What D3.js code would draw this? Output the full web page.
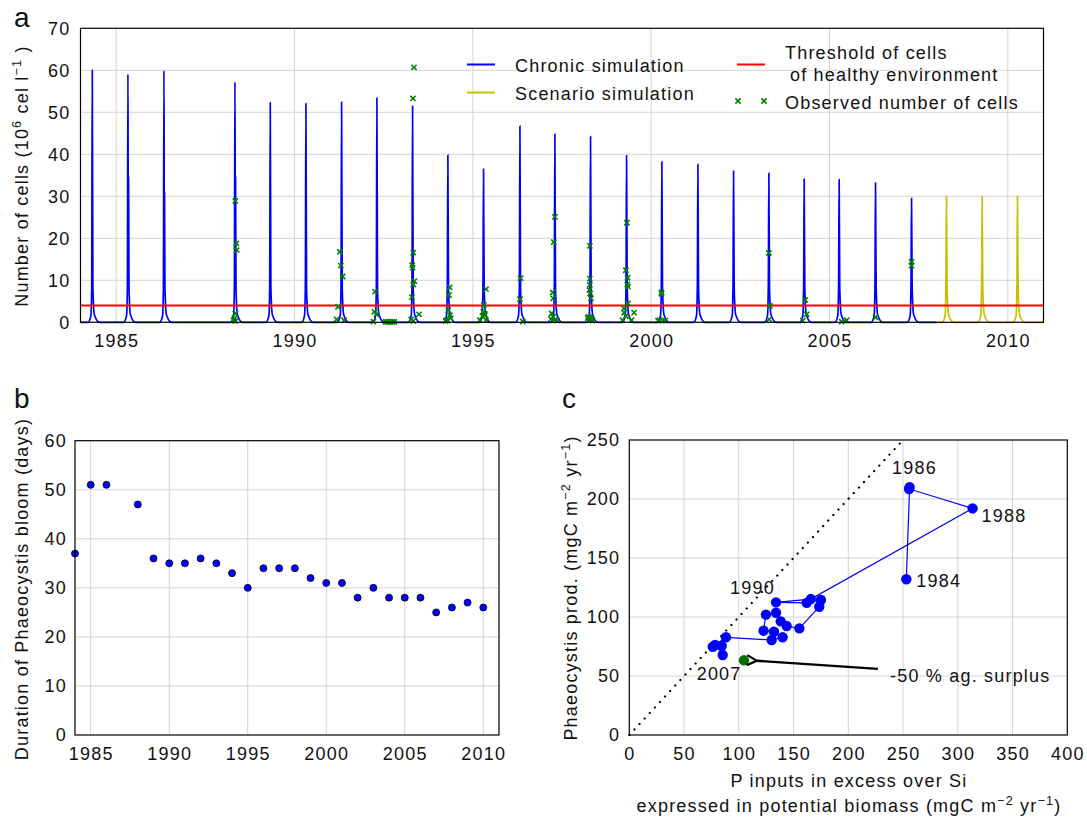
<!DOCTYPE html>
<html>
<head>
<meta charset="utf-8">
<script src="https://cdn.jsdelivr.net/npm/d3@7"></script>
<style>
  body { margin: 0; background: #fff; }
  svg text { font-family: "Liberation Sans", Arial, sans-serif; fill: #111; }
</style>
</head>
<body>
<svg id="chart" width="1087" height="819"></svg>
<script>
// ---------- panel a : Phaeocystis cells, simulation vs observations ----------
// chronic simulation, [year, 10^6 cells/l]
const chronicSim = [
  [1984.00,0],[1984.21,0],[1984.29,1.5],[1984.314,8],[1984.33,60.0],[1984.348,8],[1984.39,1.8],[1984.53,0],
  [1985.21,0],[1985.29,1.5],[1985.314,8],[1985.33,59.1],[1985.338,33],[1985.348,34.5],[1985.36,8],[1985.40,1.8],[1985.54,0],
  [1986.22,0],[1986.30,1.5],[1986.324,8],[1986.34,59.9],[1986.348,30],[1986.356,30.8],[1986.368,8],[1986.41,1.8],[1986.55,0],
  [1988.21,0],[1988.29,1.5],[1988.314,8],[1988.33,57.2],[1988.338,33],[1988.348,34.5],[1988.36,8],[1988.40,1.8],[1988.54,0],
  [1989.20,0],[1989.28,1.5],[1989.304,8],[1989.32,52.3],[1989.338,8],[1989.38,1.8],[1989.52,0],
  [1990.20,0],[1990.28,1.5],[1990.304,8],[1990.32,52.1],[1990.338,8],[1990.38,1.8],[1990.52,0],
  [1991.20,0],[1991.28,1.5],[1991.304,8],[1991.32,52.4],[1991.338,8],[1991.38,1.8],[1991.52,0],
  [1992.19,0],[1992.27,1.5],[1992.294,8],[1992.31,53.4],[1992.328,8],[1992.37,1.8],[1992.51,0],
  [1993.19,0],[1993.27,1.5],[1993.294,8],[1993.31,51.5],[1993.328,8],[1993.37,1.8],[1993.51,0],
  [1994.18,0],[1994.26,1.5],[1994.284,8],[1994.30,39.8],[1994.318,8],[1994.36,1.8],[1994.50,0],
  [1995.18,0],[1995.26,1.5],[1995.284,8],[1995.30,36.5],[1995.318,8],[1995.36,1.8],[1995.50,0],
  [1996.20,0],[1996.28,1.5],[1996.304,8],[1996.32,46.7],[1996.338,8],[1996.38,1.8],[1996.52,0],
  [1997.18,0],[1997.26,1.5],[1997.284,8],[1997.30,44.8],[1997.318,8],[1997.36,1.8],[1997.50,0],
  [1998.18,0],[1998.26,1.5],[1998.284,8],[1998.30,44.2],[1998.318,8],[1998.36,1.8],[1998.50,0],
  [1999.19,0],[1999.27,1.5],[1999.294,8],[1999.31,39.7],[1999.328,8],[1999.37,1.8],[1999.51,0],
  [2000.18,0],[2000.26,1.5],[2000.284,8],[2000.30,38.2],[2000.318,8],[2000.36,1.8],[2000.50,0],
  [2001.19,0],[2001.27,1.5],[2001.294,8],[2001.31,37.6],[2001.328,8],[2001.37,1.8],[2001.51,0],
  [2002.19,0],[2002.27,1.5],[2002.294,8],[2002.31,36.0],[2002.328,8],[2002.37,1.8],[2002.51,0],
  [2003.18,0],[2003.26,1.5],[2003.284,8],[2003.30,35.5],[2003.318,8],[2003.36,1.8],[2003.50,0],
  [2004.17,0],[2004.25,1.5],[2004.274,8],[2004.29,34.1],[2004.308,8],[2004.35,1.8],[2004.49,0],
  [2005.15,0],[2005.23,1.5],[2005.254,8],[2005.27,34.0],[2005.288,8],[2005.33,1.8],[2005.47,0],
  [2006.17,0],[2006.25,1.5],[2006.274,8],[2006.29,33.2],[2006.308,8],[2006.35,1.8],[2006.49,0],
  [2007.18,0],[2007.26,1.5],[2007.284,8],[2007.30,29.5],[2007.318,8],[2007.36,1.8],[2007.50,0],
  [2008.00,0]
];

// scenario simulation (after 2008)
const scenarioSim = [
  [2008.00,0],
  [2008.16,0],[2008.24,1.5],[2008.264,8],[2008.28,30.0],[2008.298,8],[2008.34,1.8],[2008.48,0],
  [2009.16,0],[2009.24,1.5],[2009.264,8],[2009.28,29.9],[2009.298,8],[2009.34,1.8],[2009.48,0],
  [2010.15,0],[2010.23,1.5],[2010.254,8],[2010.27,30.0],[2010.288,8],[2010.33,1.8],[2010.47,0],
  [2011.00,0]
];

// observed number of cells, [year, 10^6 cells/l]
const observedCells = [
  [1988.34,28.9],[1988.37,18.8],[1988.38,17.2],[1988.34,2.1],[1988.32,1.0],[1988.29,0.5],[1988.34,0.3],
  [1991.27,16.8],[1991.30,13.5],[1991.35,10.9],[1991.22,3.7],[1991.18,0.7],[1991.39,0.5],
  [1992.26,7.3],[1992.24,2.5],[1992.30,1.9],[1992.21,0.15],
  [1992.55,0.1],[1992.60,0.1],[1992.65,0.1],[1992.70,0.1],[1992.75,0.1],[1992.80,0.1],
  [1993.35,60.7],[1993.32,53.3],[1993.33,16.6],[1993.30,13.6],[1993.31,13.0],[1993.36,9.8],
  [1993.33,9.0],[1993.29,6.0],[1993.49,1.9],[1993.27,0.7],[1993.33,0.3],
  [1994.35,8.3],[1994.33,6.5],[1994.31,2.9],[1994.36,1.7],[1994.27,0.5],[1994.30,0.4],[1994.24,0.3],[1994.38,1.0],
  [1995.37,7.9],[1995.31,4.1],[1995.29,2.5],[1995.34,1.7],[1995.27,1.5],[1995.20,0.5],[1995.37,0.5],[1995.33,2.0],
  [1996.34,10.5],[1996.32,5.5],[1996.40,0.2],
  [1997.30,25.1],[1997.27,19.1],[1997.24,7.1],[1997.25,5.7],[1997.21,2.1],[1997.25,1.3],[1997.19,0.8],[1997.30,0.5],[1997.36,0.4],
  [1998.28,18.2],[1998.28,10.4],[1998.28,8.9],[1998.27,7.7],[1998.29,6.9],[1998.31,5.7],
  [1998.24,1.3],[1998.22,1.0],[1998.28,1.1],[1998.33,1.0],[1998.26,0.5],[1998.35,0.4],
  [1999.32,23.7],[1999.29,12.4],[1999.34,10.6],[1999.33,9.0],[1999.35,8.5],[1999.35,4.5],
  [1999.24,3.3],[1999.52,2.3],[1999.24,2.3],[1999.29,1.5],[1999.20,0.5],[1999.45,0.5],
  [2000.29,7.1],[2000.29,6.8],[2000.19,0.4],[2000.24,0.5],[2000.33,0.4],[2000.40,0.4],
  [2003.30,16.5],[2003.33,3.9],[2003.31,0.7],
  [2004.32,5.3],[2004.36,1.9],[2004.25,0.4],
  [2005.34,0.15],[2005.48,0.5],
  [2006.29,1.2],
  [2007.30,14.4],[2007.30,13.5]
];

const healthyThreshold = 4;
const cellTicks = [0, 10, 20, 30, 40, 50, 60, 70];
const yearTicks = [1985, 1990, 1995, 2000, 2005, 2010];

// ---------- panel b : bloom duration ----------
const bloomYears = [1984, 1985, 1986, 1988, 1989, 1990, 1991, 1992, 1993, 1994, 1995, 1996, 1997,
                    1998, 1999, 2000, 2001, 2002, 2003, 2004, 2005, 2006, 2007, 2008, 2009, 2010];
const bloomDays = [37, 51, 51, 47, 36, 35, 35, 36, 35, 33, 30, 34, 34,
                   34, 32, 31, 31, 28, 30, 28, 28, 28, 25, 26, 27, 26];
const dayTicks = [0, 10, 20, 30, 40, 50, 60];

// ---------- panel c : production vs P excess ----------
const prodYears = [1984, 1985, 1986, 1988, 1989, 1990, 1991, 1992, 1993, 1994, 1995, 1996,
                   1997, 1998, 1999, 2000, 2001, 2002, 2003, 2004, 2005, 2006, 2007];
const pExcess = [253, 256, 255.5, 313.5, 165.7, 134, 162, 175, 173.5, 155.3, 143.7, 138.3,
                 134, 124.8, 122.6, 132.1, 140, 130, 88.3, 78.3, 76.2, 84.4, 85.3];
const phaeoProd = [132, 210, 208.5, 192, 115.2, 112.4, 112, 114.4, 108.7, 90.4, 92.4, 96.3,
                   103.6, 102, 88.4, 87.5, 82.8, 80.5, 82.8, 76.3, 74.8, 75.4, 67.8];
const labelledYears = [1984, 1986, 1988, 1990, 2007];
const scenarioPoint = [104.7, 63.3];   // -50 % agricultural surplus
const pTicks = [0, 50, 100, 150, 200, 250, 300, 350, 400];
const prodTicks = [0, 50, 100, 150, 200, 250];

const chartApp = {
    svg: null,
    gridColor: "#d4d4d4",
    fontSize: 18,
    spacing: 1.2,

    init: function() {
        this.svg = d3.select("#chart");
        this.drawPanelA();
        this.drawPanelB();
        this.drawPanelC();
    },

    // small helper: text (optionally rotated) with superscript parts
    addText: function(g, x, y, parts, opts) {
        const size = opts.size || this.fontSize;
        const t = g.append("text")
            .attr("x", x).attr("y", y)
            .attr("font-size", size)
            .attr("letter-spacing", opts.spacing == null ? this.spacing : opts.spacing)
            .attr("text-anchor", opts.anchor || "start");
        if (opts.rotate) t.attr("transform", "rotate(-90," + x + "," + y + ")");
        parts.forEach(p => {
            if (typeof p === "string") {
                t.append("tspan").text(p);
            } else {
                t.append("tspan").attr("baseline-shift", "super")
                    .attr("font-size", size * 0.7).text(p.sup);
            }
        });
        return t;
    },

    grid: function(g, x, y, xGrid, yGrid) {
        const [x0, x1] = x.range(), [y0, y1] = y.range();
        g.selectAll(".vg").data(xGrid).enter().append("line")
            .attr("x1", d => x(d)).attr("x2", d => x(d))
            .attr("y1", y0).attr("y2", y1)
            .attr("stroke", this.gridColor);
        g.selectAll(".hg").data(yGrid).enter().append("line")
            .attr("x1", x0).attr("x2", x1)
            .attr("y1", d => y(d)).attr("y2", d => y(d))
            .attr("stroke", this.gridColor);
    },

    frame: function(g, x, y) {
        const [x0, x1] = x.range(), [y0, y1] = y.range();
        g.append("rect")
            .attr("x", x0).attr("y", y1)
            .attr("width", x1 - x0).attr("height", y0 - y1)
            .attr("fill", "none").attr("stroke", "#000").attr("stroke-width", 1.2);
    },

    axes: function(g, x, y, xTicks, yTicks, xPad, yPad) {
        g.append("g").attr("transform", "translate(0," + y.range()[0] + ")")
            .call(d3.axisBottom(x).tickValues(xTicks).tickSize(0).tickPadding(xPad).tickFormat(d3.format("d")))
            .call(a => a.select(".domain").remove());
        g.append("g").attr("transform", "translate(" + x.range()[0] + ",0)")
            .call(d3.axisLeft(y).tickValues(yTicks).tickSize(0).tickPadding(yPad).tickFormat(d3.format("d")))
            .call(a => a.select(".domain").remove());
        g.selectAll(".tick text")
            .attr("font-size", this.fontSize).attr("letter-spacing", this.spacing)
            .attr("font-family", "Liberation Sans, Arial, sans-serif").attr("fill", "#111");
    },

    xMark: function(s) {
        return "M" + (-s) + "," + (-s) + "L" + s + "," + s + "M" + (-s) + "," + s + "L" + s + "," + (-s);
    },

    drawPanelA: function() {
        const g = this.svg.append("g");
        const x = d3.scaleLinear().domain([1984, 2011]).range([80.5, 1043.5]);
        const y = d3.scaleLinear().domain([0, 70]).range([322.3, 28.3]);

        this.grid(g, x, y, yearTicks, cellTicks.slice(1, -1));

        const line = d3.line().x(d => x(d[0])).y(d => y(d[1])).curve(d3.curveMonotoneX);

        g.append("path").datum(scenarioSim).attr("d", line)
            .attr("fill", "none").attr("stroke", "#c8c000").attr("stroke-width", 1.7);
        g.append("path").datum(chronicSim).attr("d", line)
            .attr("fill", "none").attr("stroke", "#0000ff").attr("stroke-width", 1.7);

        // threshold of healthy environment
        g.append("line")
            .attr("x1", x.range()[0]).attr("x2", x.range()[1])
            .attr("y1", y(healthyThreshold)).attr("y2", y(healthyThreshold))
            .attr("stroke", "#ff0000").attr("stroke-width", 2);

        g.selectAll(".obs").data(observedCells).enter().append("path")
            .attr("transform", d => "translate(" + x(d[0]) + "," + y(d[1]) + ")")
            .attr("d", this.xMark(2.6))
            .attr("stroke", "#008000").attr("stroke-width", 1.6).attr("fill", "none");

        this.frame(g, x, y);
        this.axes(g, x, y, yearTicks, cellTicks, 12, 10);

        // legend
        const lg = g.append("g");
        lg.append("line").attr("x1", 467).attr("x2", 495).attr("y1", 64.5).attr("y2", 64.5)
            .attr("stroke", "#0000ff").attr("stroke-width", 2);
        this.addText(lg, 515, 71.5, ["Chronic simulation"], {});
        lg.append("line").attr("x1", 467).attr("x2", 495).attr("y1", 92.5).attr("y2", 92.5)
            .attr("stroke", "#c8c000").attr("stroke-width", 2);
        this.addText(lg, 515, 99.5, ["Scenario simulation"], {});
        lg.append("line").attr("x1", 737).attr("x2", 765).attr("y1", 64.5).attr("y2", 64.5)
            .attr("stroke", "#ff0000").attr("stroke-width", 2);
        this.addText(lg, 785, 59, ["Threshold of cells"], {});
        this.addText(lg, 790, 81, ["of healthy environment"], {});
        [738, 764].forEach(px => {
            lg.append("path").attr("transform", "translate(" + px + ",101)")
                .attr("d", this.xMark(2.6))
                .attr("stroke", "#008000").attr("stroke-width", 1.6).attr("fill", "none");
        });
        this.addText(lg, 785, 108.5, ["Observed number of cells"], {});

        // axis title and panel letter
        this.addText(g, 28, 176, ["Number of cells (10", {sup: "6"}, "  cel l", {sup: "\u22121"}, " )"],
            {rotate: true, anchor: "middle"});
        this.addText(g, 14, 27, ["a"], {size: 28, spacing: 0});
    },

    drawPanelB: function() {
        const g = this.svg.append("g");
        const x = d3.scaleLinear().domain([1984, 2011]).range([75, 499]);
        const y = d3.scaleLinear().domain([0, 60]).range([735, 440.7]);

        this.grid(g, x, y, yearTicks, dayTicks.slice(1, -1));

        g.selectAll(".dot").data(bloomYears).enter().append("circle")
            .attr("cx", d => x(d))
            .attr("cy", (d, i) => y(bloomDays[i]))
            .attr("r", 3.5)
            .attr("fill", "#0000ff").attr("stroke", "#000").attr("stroke-width", 0.8);

        this.frame(g, x, y);
        this.axes(g, x, y, yearTicks, dayTicks, 12.5, 8);

        this.addText(g, 28, 589, ["Duration of Phaeocystis bloom (days)"], {rotate: true, anchor: "middle"});
        this.addText(g, 14, 408, ["b"], {size: 28, spacing: 0});
    },

    drawPanelC: function() {
        const g = this.svg.append("g");
        const x = d3.scaleLinear().domain([0, 400]).range([629.3, 1067.3]);
        const y = d3.scaleLinear().domain([0, 250]).range([735, 440]);

        this.grid(g, x, y, pTicks.slice(1, -1), prodTicks.slice(1, -1));

        // 1:1 dotted line
        g.append("line")
            .attr("x1", x(0)).attr("y1", y(0)).attr("x2", x(250)).attr("y2", y(250))
            .attr("stroke", "#000").attr("stroke-width", 2.2)
            .attr("stroke-dasharray", "0.1 7.4").attr("stroke-linecap", "round");

        const pts = prodYears.map((yr, i) => ({year: yr, px: pExcess[i], prod: phaeoProd[i]}));
        g.append("path").datum(pts)
            .attr("d", d3.line().x(d => x(d.px)).y(d => y(d.prod)))
            .attr("fill", "none").attr("stroke", "#0000ff").attr("stroke-width", 1.2);
        g.selectAll(".pt").data(pts).enter().append("circle")
            .attr("cx", d => x(d.px)).attr("cy", d => y(d.prod)).attr("r", 5.2)
            .attr("fill", "#0000ff");

        g.append("circle")
            .attr("cx", x(scenarioPoint[0])).attr("cy", y(scenarioPoint[1])).attr("r", 5.2)
            .attr("fill", "#007000");

        // year labels, offset from their point
        const offsets = {1984: [10, 8], 1986: [-17, -15], 1988: [9, 14], 1990: [-46, -8], 2007: [-26, 25]};
        pts.filter(d => labelledYears.includes(d.year)).forEach(d => {
            const o = offsets[d.year];
            this.addText(g, x(d.px) + o[0], y(d.prod) + o[1], [String(d.year)], {});
        });

        // arrow to the scenario point
        this.svg.append("defs").append("marker")
            .attr("id", "arrow").attr("viewBox", "0 -6 12 12")
            .attr("refX", 1).attr("refY", 0)
            .attr("markerWidth", 12).attr("markerHeight", 12)
            .attr("markerUnits", "userSpaceOnUse").attr("orient", "auto")
            .append("path").attr("d", "M11,-5L1,0L11,5")
            .attr("fill", "none").attr("stroke", "#000").attr("stroke-width", 2.2);
        g.append("line")
            .attr("x1", x(227)).attr("y1", y(56))
            .attr("x2", x(scenarioPoint[0]) + 13).attr("y2", y(scenarioPoint[1]) + 0.5)
            .attr("stroke", "#000").attr("stroke-width", 2.4)
            .attr("marker-end", "url(#arrow)");
        this.addText(g, 890, 682, ["-50 % ag. surplus"], {});

        this.frame(g, x, y);
        this.axes(g, x, y, pTicks, prodTicks, 12.5, 9);

        this.addText(g, 849, 787, ["P inputs in excess over Si"], {anchor: "middle"});
        this.addText(g, 849, 812, ["expressed in potential biomass (mgC m", {sup: "\u22122"}, " yr", {sup: "\u22121"}, ")"],
            {anchor: "middle"});
        this.addText(g, 577, 588, ["Phaeocystis prod. (mgC m", {sup: "\u22122"}, " yr", {sup: "\u22121"}, ")"],
            {rotate: true, anchor: "middle"});
        this.addText(g, 562, 408, ["c"], {size: 28, spacing: 0});
    }
};

window.onload = function() {
    chartApp.init();
};
</script>
</body>
</html>
